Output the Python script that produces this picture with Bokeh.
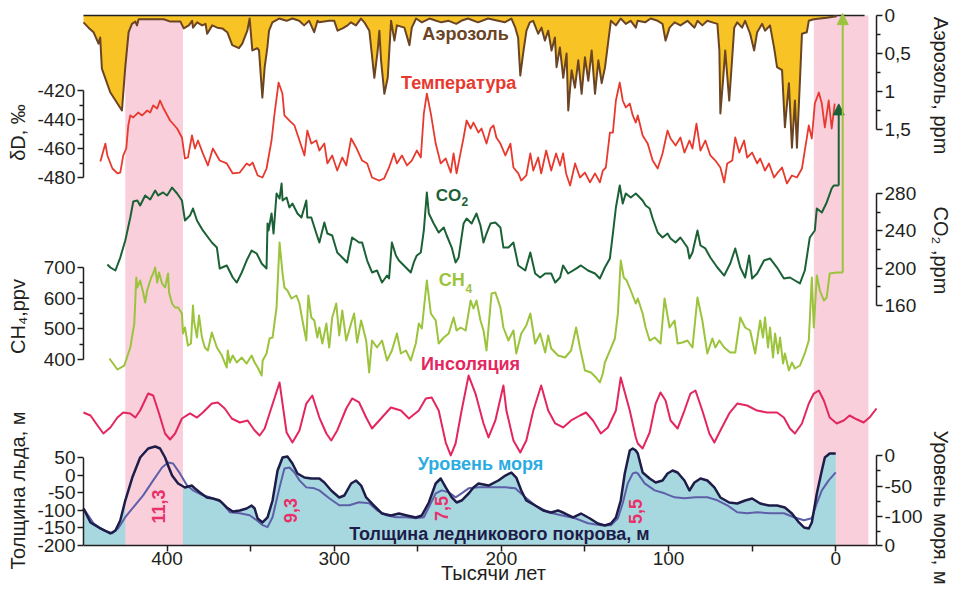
import math
from bokeh.plotting import figure
from bokeh.models import Range1d, LinearAxis, FixedTicker, Label, Arrow, NormalHead
from bokeh.embed import file_html
from bokeh.resources import INLINE

# ---------------------------------------------------------------- data
# (age, thousand years before present ; value)
AEROSOL_PPM = [
    (450, 0.09), (447, 0.16), (444, 0.22), (441, 0.37), (440, 0.29), (439, 0.70), (434, 1.01), (427, 1.25), (425, 0.68), (423, 0.22),
    (421, 0.11), (419, 0.08), (418, 0.13), (417, 0.05), (410, 0.05), (402, 0.05), (398, 0.08), (392, 0.08), (390, 0.17), (387, 0.13),
    (385, 0.07), (384.5, 0.16), (382, 0.09), (379, 0.13), (377, 0.11), (376, 0.24), (373, 0.13), (370, 0.16), (367, 0.17), (364, 0.22),
    (361, 0.39), (357, 0.43), (355, 0.37), (352, 0.20), (350.6, 0.04), (349, 0.46), (346, 0.43), (345, 0.46), (343, 1.08), (341.6, 0.68),
    (340, 0.42), (339, 0.20), (337, 0.09), (333, 0.04), (328.5, 0.07), (325, 0.04), (321, 0.07), (318, 0.13), (315, 0.07), (312, 0.22),
    (310, 0.07), (309, 0.09), (303, 0.07), (300, 0.07), (298, 0.20), (295, 0.17), (292, 0.13), (290, 0.09), (287, 0.13), (284, 0.04),
    (282, 0.09), (279, 0.20), (276, 0.82), (274, 0.46), (273, 0.20), (272, 0.59), (270, 1.03), (268, 0.82), (266, 0.07), (264, 0.33),
    (262.5, 0.13), (258, 0.16), (255, 0.39), (253.6, 0.16), (251, 0.04), (247.6, 0.09), (243, 0.04), (239, 0.07), (236, 0.09), (231.5, 0.07),
    (227, 0.11), (224, 0.07), (220, 0.04), (214, 0.09), (208, 0.04), (202, 0.07), (198, 0.09), (194, 0.04), (191.7, 0.16), (190, 0.29),
    (188.7, 0.79), (187, 0.50), (185, 0.20), (183, 0.09), (181, 0.07), (178, 0.24), (176, 0.16), (174, 0.33), (172, 0.20), (170, 0.46),
    (168, 0.29), (167, 0.68), (165, 0.42), (163, 0.82), (161, 0.50), (160, 1.25), (158, 0.72), (156, 0.95), (154, 0.59), (152, 1.03),
    (150, 0.55), (148, 0.86), (146, 0.46), (144, 1.03), (142, 0.59), (140, 0.89), (138, 0.68), (136, 0.33), (134.5, 0.07), (131.5, 0.13),
    (128.6, 0.04), (125.6, 0.11), (122.6, 0.07), (119.6, 0.16), (118.5, 0.07), (114, 0.09), (110.7, 0.04), (106.5, 0.07), (103.6, 0.11), (101.8, 0.33),
    (99.4, 0.16), (96.4, 0.09), (92.9, 0.13), (88.7, 0.07), (84.5, 0.16), (82.7, 0.07), (79.8, 0.13), (76.8, 0.07), (73.8, 0.09), (70.8, 0.11),
    (69.6, 0.46), (69.0, 1.29), (67.3, 0.82), (66.1, 0.46), (63.7, 1.12), (61.9, 0.55), (60.7, 0.16), (58.9, 0.09), (56.0, 0.16), (54.2, 0.07),
    (51.2, 0.24), (48.8, 0.46), (47.0, 0.22), (44.0, 0.11), (42.3, 0.20), (39.3, 0.13), (36.9, 0.42), (35.1, 0.68), (32.1, 0.72), (30.4, 1.47),
    (28.0, 0.89), (26.2, 1.74), (24.4, 1.12), (23.2, 1.74), (21.4, 0.86), (20.2, 0.24), (17.3, 0.22), (16.1, 0.07), (13.1, 0.05), (9.5, 0.04),
    (5.4, 0.03), (-0.6, 0.01),
]

TEMPERATURE_DD = [
    (439.9, -469.0), (436.9, -456.6), (435.7, -464.8), (432.7, -473.8), (429.7, -477.2), (428.0, -476.6), (426.2, -464.8), (424.4, -460.0),
    (423.2, -444.1), (422.0, -437.2), (420.2, -438.6), (417.3, -435.2), (414.9, -437.2), (411.9, -433.8), (410.1, -435.2), (408.3, -430.3),
    (405.9, -432.4), (404.2, -426.9), (402.4, -431.7), (398.2, -440.7), (394.0, -446.2), (391.1, -452.4), (389.3, -466.9), (387.5, -466.2),
    (385.1, -451.0), (383.3, -460.0), (381.5, -454.5), (378.6, -463.4), (375.6, -471.7), (372.6, -460.0), (368.5, -468.3), (364.3, -470.3),
    (360.7, -477.2), (356.5, -476.6), (352.4, -470.3), (350.6, -471.7), (348.8, -469.7), (345.8, -478.6), (342.9, -480.0), (340.5, -473.8),
    (337.5, -454.5), (335.7, -435.9), (333.3, -414.5), (331.0, -422.1), (329.8, -437.2), (326.8, -440.7), (323.8, -444.1), (320.8, -454.5),
    (317.8, -464.8), (316.1, -447.6), (313.7, -456.6), (310.7, -454.5), (308.9, -461.4), (305.9, -456.6), (304.1, -470.3), (301.2, -464.8),
    (298.2, -475.2), (295.2, -466.2), (292.8, -471.7), (289.9, -453.1), (286.9, -459.3), (283.3, -468.3), (280.3, -470.3), (277.4, -480.0),
    (273.2, -482.1), (270.2, -480.7), (267.2, -473.1), (264.3, -463.4), (262.5, -470.3), (259.5, -464.8), (256.5, -471.7), (253.6, -468.3),
    (250.6, -461.4), (248.2, -466.2), (246.4, -435.9), (244.6, -422.1), (242.2, -435.9), (239.3, -456.6), (236.3, -470.3), (233.3, -466.9),
    (230.3, -476.6), (228.6, -463.4), (226.8, -477.2), (224.4, -462.8), (222.6, -452.4), (220.8, -440.7), (218.4, -446.2), (216.7, -442.1),
    (213.7, -449.0), (211.9, -446.2), (208.9, -456.6), (206.5, -446.2), (204.7, -444.1), (203.0, -452.4), (200.6, -456.6), (197.6, -464.8),
    (194.6, -456.6), (192.8, -473.1), (189.9, -477.2), (188.1, -482.1), (185.1, -478.6), (182.7, -463.4), (180.9, -475.2), (178.0, -466.2),
    (176.2, -477.2), (173.2, -461.4), (170.2, -475.2), (167.3, -463.4), (164.9, -471.7), (163.1, -463.4), (161.3, -477.2), (158.9, -485.5),
    (155.9, -470.3), (153.0, -480.0), (150.0, -476.6), (147.0, -483.4), (144.0, -477.2), (141.1, -483.4), (139.3, -475.2), (137.5, -473.1),
    (135.1, -449.0), (133.3, -449.0), (131.5, -426.9), (129.2, -414.5), (127.4, -426.9), (125.6, -431.7), (123.2, -429.0), (121.4, -437.2),
    (119.6, -442.1), (118.4, -437.2), (115.5, -451.0), (112.5, -456.6), (109.5, -468.3), (106.5, -473.8), (103.6, -463.4), (100.6, -447.6),
    (98.8, -453.1), (95.8, -457.9), (92.9, -452.4), (90.5, -462.8), (87.5, -454.5), (85.7, -460.0), (83.3, -442.8), (80.9, -461.4),
    (78.0, -454.5), (75.0, -464.8), (72.0, -468.3), (69.0, -473.1), (66.7, -483.4), (64.9, -470.3), (61.9, -468.3), (60.1, -452.4),
    (57.7, -462.8), (54.8, -454.5), (53.0, -466.2), (50.0, -462.8), (47.0, -470.3), (45.2, -466.9), (42.3, -475.2), (39.9, -470.3),
    (36.9, -480.0), (35.1, -477.2), (32.1, -473.1), (29.2, -484.1), (26.2, -478.6), (23.2, -480.0), (20.2, -473.8), (18.5, -461.4),
    (16.1, -444.1), (14.3, -453.1), (12.5, -429.0), (10.1, -421.4), (8.3, -429.0), (6.5, -445.5), (4.2, -426.9), (2.4, -446.2), (0.6, -429.0),
]

CO2_PPM = [
    (435.7, 203.9), (433.9, 200.7), (430.9, 197.5), (428.0, 211.4), (425.0, 229.6), (422.0, 254.3), (420.2, 271.4), (417.8, 272.5),
    (416.1, 267.1), (413.1, 277.9), (410.1, 273.6), (407.1, 283.2), (405.3, 277.9), (402.4, 281.1), (400.0, 277.9), (397.0, 286.4),
    (394.0, 280.0), (391.1, 272.5), (389.3, 251.1), (386.3, 256.4), (384.5, 263.9), (382.1, 251.1), (378.6, 240.4), (373.2, 227.5),
    (370.2, 222.1), (368.5, 199.6), (364.3, 202.9), (360.7, 190.0), (358.3, 184.6), (355.3, 195.4), (352.4, 208.2), (349.4, 218.9),
    (346.4, 215.7), (343.4, 205.0), (340.5, 199.6), (339.9, 247.9), (339.3, 240.4), (337.5, 258.6), (336.3, 237.1), (334.5, 280.0),
    (332.7, 274.6), (331.5, 290.7), (330.9, 272.5), (328.5, 275.7), (326.8, 265.0), (325.0, 269.3), (322.0, 258.6), (319.6, 254.3),
    (316.7, 272.5), (316.1, 254.3), (313.7, 254.3), (310.7, 237.1), (308.9, 227.5), (305.9, 248.9), (304.1, 237.1), (301.2, 235.0),
    (298.2, 216.8), (295.2, 211.4), (292.3, 206.1), (289.3, 232.9), (285.1, 227.5), (283.3, 227.5), (280.3, 208.2), (277.4, 195.4),
    (274.4, 197.5), (271.4, 184.6), (268.4, 192.1), (267.2, 188.9), (265.5, 227.5), (263.1, 213.6), (261.3, 208.2), (258.3, 202.9),
    (254.2, 195.4), (252.4, 206.1), (250.6, 213.6), (248.2, 216.8), (246.4, 240.4), (244.6, 281.1), (243.4, 258.6), (240.5, 247.9),
    (237.5, 238.2), (234.5, 243.6), (232.7, 235.0), (229.7, 222.1), (227.4, 206.1), (225.6, 211.4), (222.6, 247.9), (220.8, 253.2),
    (217.8, 247.9), (214.9, 258.6), (212.5, 245.7), (210.7, 227.5), (208.9, 237.1), (206.5, 247.9), (203.6, 248.9), (200.6, 243.6),
    (198.8, 222.1), (195.8, 222.1), (192.8, 227.5), (189.9, 202.9), (185.7, 197.5), (182.7, 216.8), (179.8, 194.3), (176.8, 190.0),
    (173.8, 194.3), (170.2, 194.3), (167.8, 184.6), (164.9, 190.0), (163.1, 202.9), (160.1, 194.3), (155.3, 199.6), (152.4, 202.9),
    (148.2, 197.5), (144.0, 194.3), (141.1, 188.9), (138.1, 200.7), (135.1, 210.4), (133.3, 237.1), (131.5, 265.0), (129.2, 288.6),
    (127.4, 269.3), (125.6, 280.0), (122.6, 275.7), (119.6, 280.0), (118.4, 277.9), (115.5, 272.5), (113.7, 267.1), (111.3, 263.9),
    (109.5, 253.2), (106.5, 238.2), (103.6, 232.9), (100.6, 237.1), (98.8, 231.8), (95.8, 227.5), (92.9, 232.9), (88.7, 222.1),
    (87.5, 210.4), (85.7, 216.8), (82.7, 240.4), (80.9, 224.3), (78.0, 221.1), (75.0, 211.4), (70.8, 200.7), (66.7, 192.1),
    (63.1, 205.0), (60.1, 221.1), (57.1, 200.7), (54.2, 190.0), (51.8, 213.6), (50.0, 188.9), (47.0, 194.3), (42.9, 208.2),
    (39.3, 210.4), (35.1, 200.7), (31.0, 188.9), (27.4, 190.0), (24.4, 186.8), (21.4, 183.6), (18.5, 197.5), (15.5, 232.9),
    (12.5, 240.4), (11.3, 263.9), (8.3, 259.6), (5.4, 270.4), (2.4, 285.4), (1.2, 288.6), (-1.8, 288.6),
]
CO2_NOW = 376.0      # present-day value reached by the arrow

CH4_PPB = [
    (434.5, 403.2), (429.7, 367.4), (425.6, 380.4), (422.0, 439.1), (419.6, 517.4), (418.4, 667.4), (417.8, 634.8), (416.1, 657.6),
    (414.3, 618.5), (413.1, 585.9), (411.9, 625.0), (409.5, 667.4), (408.3, 680.4), (407.1, 700.0), (405.9, 651.1), (404.8, 683.7),
    (403.0, 647.8), (401.2, 634.8), (399.4, 680.4), (398.8, 618.5), (397.0, 582.6), (395.2, 569.6), (393.4, 569.6), (391.1, 550.0),
    (390.5, 484.8), (389.3, 504.3), (387.5, 445.6), (385.7, 452.2), (384.5, 576.1), (383.9, 527.2), (382.1, 471.7), (380.9, 543.5),
    (379.1, 471.7), (377.4, 439.1), (375.6, 429.3), (373.2, 488.0), (370.2, 439.1), (367.2, 413.0), (364.3, 373.9), (363.7, 429.3),
    (362.5, 390.2), (360.7, 413.0), (358.3, 390.2), (355.3, 406.5), (352.4, 386.9), (349.4, 413.0), (347.6, 390.2), (345.8, 373.9),
    (343.4, 347.8), (342.8, 396.7), (340.5, 419.6), (338.7, 468.5), (336.9, 471.7), (334.5, 569.6), (332.7, 781.5), (330.9, 680.4),
    (329.8, 634.8), (328.0, 625.0), (325.6, 598.9), (322.6, 608.7), (320.8, 582.6), (319.0, 527.2), (316.7, 461.9), (315.5, 608.7),
    (313.7, 536.9), (311.9, 527.2), (310.1, 471.7), (308.9, 504.3), (307.1, 452.2), (304.7, 517.4), (303.0, 439.1), (301.2, 536.9),
    (298.8, 582.6), (297.0, 478.3), (295.2, 559.8), (292.8, 461.9), (289.9, 517.4), (288.1, 550.0), (286.3, 455.4), (283.9, 527.2),
    (280.9, 461.9), (279.1, 357.6), (277.4, 461.9), (274.4, 439.1), (271.4, 461.9), (268.4, 396.7), (265.5, 429.3), (262.5, 484.8),
    (260.1, 419.6), (257.1, 429.3), (254.2, 396.7), (251.2, 452.2), (249.4, 517.4), (247.6, 501.1), (244.6, 657.6), (242.2, 550.0),
    (239.3, 527.2), (237.5, 452.2), (234.5, 471.7), (231.5, 484.8), (228.6, 536.9), (226.8, 494.6), (224.4, 504.3), (221.4, 494.6),
    (218.4, 592.4), (216.7, 566.3), (214.9, 592.4), (212.5, 527.2), (210.7, 494.6), (208.9, 429.3), (205.9, 615.2), (203.6, 618.5),
    (200.6, 569.6), (198.8, 504.3), (195.8, 461.9), (192.8, 494.6), (191.1, 419.6), (188.1, 484.8), (185.1, 510.9), (182.7, 550.0),
    (179.8, 452.2), (176.8, 484.8), (173.8, 422.8), (172.0, 478.3), (170.2, 435.9), (166.1, 413.0), (161.9, 406.5), (158.3, 429.3),
    (155.3, 504.3), (153.0, 439.1), (150.0, 364.1), (146.4, 357.6), (143.4, 341.3), (141.1, 325.0), (139.3, 354.3), (138.1, 390.2),
    (135.1, 429.3), (132.1, 468.5), (130.3, 550.0), (128.6, 722.8), (126.8, 667.4), (125.0, 657.6), (122.6, 625.0), (119.6, 582.6),
    (118.4, 598.9), (115.5, 550.0), (113.7, 504.3), (111.3, 461.9), (108.3, 471.7), (104.8, 452.2), (102.4, 598.9), (99.4, 504.3),
    (96.4, 527.2), (94.6, 452.2), (91.7, 455.4), (88.7, 461.9), (85.7, 439.1), (82.7, 602.2), (79.8, 527.2), (76.8, 419.6),
    (73.8, 468.5), (72.0, 439.1), (69.6, 461.9), (66.7, 439.1), (63.1, 422.8), (60.1, 422.8), (57.1, 536.9), (54.2, 504.3),
    (51.2, 494.6), (48.2, 419.6), (45.2, 527.2), (43.5, 471.7), (42.3, 536.9), (40.5, 439.1), (39.3, 504.3), (37.5, 406.5),
    (36.3, 484.8), (34.5, 419.6), (33.3, 471.7), (31.5, 387.0), (30.4, 419.6), (28.0, 364.1), (26.2, 390.2), (24.4, 370.6),
    (21.4, 380.4), (18.5, 419.6), (16.1, 461.9), (14.3, 667.4), (13.1, 504.3), (11.3, 673.9), (9.5, 625.0), (7.1, 592.4),
    (5.4, 602.2), (3.6, 680.4), (-0.6, 683.7), (-4.2, 683.7),
]
CH4_NOW = 1528.0     # present-day value reached by the arrow

INSOLATION_WM2 = [
    (450.0, 504.3), (445.8, 500.0), (441.6, 485.7), (438.1, 474.3), (433.9, 482.9), (429.7, 497.1), (426.2, 504.3), (422.0, 502.9),
    (419.0, 497.1), (416.1, 507.1), (411.3, 531.4), (408.3, 528.6), (404.8, 502.9), (401.2, 474.3), (398.2, 465.7), (395.2, 474.3),
    (391.1, 495.7), (386.3, 502.9), (382.1, 497.1), (378.6, 504.3), (373.2, 517.1), (369.6, 518.6), (365.5, 510.0), (361.3, 495.7),
    (356.5, 490.0), (351.8, 492.9), (347.6, 478.6), (344.6, 471.4), (341.6, 481.4), (338.7, 502.9), (332.7, 547.1), (328.5, 475.7),
    (325.0, 461.4), (320.8, 478.6), (316.7, 517.1), (313.1, 528.6), (308.9, 497.1), (304.7, 474.3), (301.8, 464.3), (298.2, 478.6),
    (292.8, 510.0), (289.3, 524.3), (285.1, 518.6), (280.9, 497.1), (277.4, 481.4), (272.0, 495.7), (266.1, 511.4), (260.1, 507.1),
    (255.3, 495.7), (249.4, 507.1), (245.2, 524.3), (241.7, 525.7), (237.5, 507.1), (233.3, 461.4), (230.3, 442.9), (227.4, 460.0),
    (223.8, 507.1), (219.6, 557.1), (215.5, 531.4), (210.7, 488.6), (207.7, 468.6), (203.6, 492.9), (198.8, 542.9), (197.0, 507.1),
    (192.8, 464.3), (188.7, 447.1), (185.1, 464.3), (180.9, 507.1), (176.2, 542.9), (172.0, 507.1), (167.8, 488.6), (163.1, 482.9),
    (158.3, 492.9), (153.0, 500.0), (149.4, 504.3), (145.2, 492.9), (140.5, 474.3), (136.3, 482.9), (131.5, 507.1), (128.6, 554.3),
    (123.2, 507.1), (119.6, 468.6), (118.4, 460.0), (115.5, 452.9), (111.3, 475.7), (107.7, 517.1), (104.8, 532.9), (101.8, 521.4),
    (98.8, 492.9), (94.6, 481.4), (90.5, 507.1), (86.9, 531.4), (83.9, 535.7), (79.8, 507.1), (75.6, 474.3), (72.6, 461.4),
    (69.0, 478.6), (63.7, 502.9), (58.9, 517.1), (53.0, 514.3), (47.0, 507.1), (41.1, 504.3), (35.1, 504.3), (31.0, 497.1),
    (27.4, 481.4), (24.4, 474.3), (20.2, 488.6), (16.1, 517.1), (13.1, 531.4), (10.1, 535.7), (7.1, 521.4), (3.6, 497.1),
    (-0.6, 488.6), (-4.8, 492.9), (-8.3, 500.0), (-12.5, 494.6), (-16.7, 490.0), (-20.2, 497.1), (-24.4, 510.0),
]

SEA_LEVEL_M = [
    (450.0, -86.9), (445.8, -109.8), (439.9, -119.6), (433.9, -127.8), (430.9, -122.9), (428.0, -106.5), (425.0, -73.8), (420.8, -36.1),
    (416.1, -3.3), (411.3, 11.5), (407.1, 14.8), (404.2, 11.5), (401.2, -3.3), (399.4, -16.4), (397.0, -32.8), (393.4, -45.9),
    (389.3, -52.4), (385.1, -49.2), (383.3, -54.1), (380.3, -60.6), (376.2, -68.8), (372.6, -70.5), (368.5, -73.8), (364.3, -85.2),
    (360.7, -91.8), (356.5, -90.1), (352.4, -86.9), (349.4, -82.0), (347.6, -86.9), (345.8, -103.3), (342.9, -109.8), (339.9, -101.6),
    (336.9, -73.8), (333.9, -24.6), (330.9, -3.3), (328.0, -1.6), (325.0, -13.1), (322.0, -29.5), (317.8, -36.1), (313.7, -37.7),
    (308.9, -37.7), (305.9, -44.3), (301.8, -57.4), (297.0, -68.8), (294.0, -65.6), (289.9, -45.9), (286.9, -41.0), (283.9, -49.2),
    (280.9, -68.8), (276.2, -82.0), (271.4, -95.1), (266.1, -98.3), (261.3, -95.1), (256.5, -98.3), (251.2, -101.6), (247.6, -98.3),
    (243.4, -77.0), (239.3, -45.9), (236.3, -37.7), (233.3, -52.4), (229.7, -68.8), (226.8, -77.0), (223.8, -73.8), (219.6, -62.3),
    (216.7, -52.4), (213.7, -45.9), (207.7, -49.2), (201.8, -41.0), (197.6, -32.8), (194.0, -27.9), (191.1, -36.1), (188.1, -57.4),
    (185.1, -73.8), (179.8, -82.0), (175.0, -90.1), (170.2, -93.4), (166.1, -90.1), (161.9, -95.1), (157.1, -101.6), (152.4, -95.1),
    (147.0, -103.3), (142.3, -111.5), (138.1, -114.7), (134.5, -111.5), (131.5, -101.6), (128.6, -73.8), (126.2, -29.5), (123.2, 8.2),
    (121.4, 11.5), (119.6, 8.2), (118.4, 3.3), (115.5, -27.9), (111.3, -37.7), (107.7, -44.3), (103.6, -41.0), (100.6, -29.5),
    (97.6, -24.6), (94.6, -27.9), (90.5, -41.0), (87.5, -57.4), (84.5, -44.3), (80.9, -37.7), (76.8, -41.0), (72.6, -52.4),
    (69.0, -68.8), (63.7, -77.0), (58.9, -78.7), (54.2, -73.8), (50.0, -70.5), (45.2, -78.7), (39.9, -82.0), (35.1, -82.0),
    (30.4, -85.2), (26.2, -95.1), (22.0, -109.8), (19.0, -118.0), (16.1, -119.6), (14.3, -109.8), (11.3, -62.3), (8.3, -24.6),
    (6.5, -3.3), (3.6, 3.3), (0.0, 3.3),
]

ICE_THICKNESS_M = [
    (450.0, -93.8), (444.0, -136.4), (438.1, -156.3), (432.7, -164.8), (429.2, -150.6), (425.0, -119.3), (420.2, -90.9), (414.3, -56.8),
    (408.3, -14.2), (403.0, 22.7), (399.4, 36.9), (396.4, 34.1), (392.3, 5.7), (388.1, -28.4), (384.5, -42.6), (378.6, -56.8),
    (372.6, -65.3), (367.2, -76.7), (362.5, -105.1), (356.5, -108.0), (350.6, -113.6), (346.4, -127.8), (342.8, -142.0), (339.9, -147.7),
    (336.9, -119.3), (332.7, -34.1), (329.8, 19.9), (326.8, 22.7), (323.8, 8.5), (320.8, -14.2), (316.7, -34.1), (311.9, -36.9),
    (308.9, -42.6), (303.0, -65.3), (297.0, -85.2), (291.0, -85.2), (285.1, -76.7), (279.1, -79.5), (274.4, -99.4), (269.0, -113.6),
    (263.1, -119.3), (257.1, -119.3), (251.2, -122.2), (246.4, -119.3), (243.4, -90.9), (239.3, -51.1), (235.7, -42.6), (231.5, -48.3),
    (227.4, -62.5), (223.8, -51.1), (219.6, -36.9), (213.7, -34.1), (205.9, -34.1), (197.6, -34.1), (191.7, -36.9), (185.7, -62.5),
    (179.8, -85.2), (172.0, -105.1), (164.3, -113.6), (155.9, -122.2), (148.2, -136.4), (140.5, -142.0), (134.5, -142.0), (130.3, -122.2),
    (127.4, -79.5), (124.4, -22.7), (121.4, 5.7), (119.6, 8.5), (118.4, 5.7), (114.3, -22.7), (108.3, -42.6), (102.4, -51.1),
    (96.4, -62.5), (90.5, -65.3), (83.9, -62.5), (76.8, -62.5), (70.8, -71.0), (64.9, -85.2), (58.9, -105.1), (53.0, -108.0),
    (47.0, -105.1), (39.3, -108.0), (31.0, -108.0), (25.0, -119.3), (19.0, -127.8), (14.3, -122.2), (11.3, -79.5), (8.3, -42.6),
    (4.2, -14.2), (0.0, 8.5),
]

INTERGLACIALS = [(425.0, 390.5), (13.1, -19.6)]          # shaded periods, kyr
INTERGLACIAL_TEXT = ["11,3", "9,3", "7,5", "5,5"]

X_TICKS = [400, 300, 200, 100, 0]
X_MINOR = [350, 250, 150, 50]
DD_TICKS, DD_MINOR = [-420, -440, -460, -480], [-430, -450, -470]
CH4_TICKS, CH4_MINOR = [700, 600, 500, 400], [650, 550, 450]
ICE_TICKS = [50, 0, -50, -100, -150, -200]
AER_TICKS, AER_LABELS, AER_MINOR = [0, 0.5, 1, 1.5], ["0", "0,5", "1", "1,5"], [0.25, 0.75, 1.25]
CO2_TICKS, CO2_MINOR = [280, 240, 200, 160], [260, 220, 180]
SEA_TICKS, SEA_MINOR = [0, -50, -100], [-25, -75, -125]

LEFT_TITLES = ["δD, ‰", "CH₄,ppv", "Толщина льда, м"]
RIGHT_TITLES = ["Аэрозоль, ppm", "CO₂ ,ppm", "Уровень моря, м"]
X_TITLE = "Тысячи лет"

# ---------------------------------------------------------------- layout (pixels)
W, H = 954, 589
FRAME_L, FRAME_R, FRAME_TOP, FRAME_BOT = 80, 883, 12, 545
ML, MR, MT, MB = FRAME_L, W - FRAME_R, FRAME_TOP, H - FRAME_BOT
FH = FRAME_BOT - FRAME_TOP
ZERO_PX, PX_PER_KYR = 839.0, 1.68


def px2kyr(px):
    return (ZERO_PX - px) / PX_PER_KYR


def rng(va, ya, vb, yb):
    s = (vb - va) / (yb - ya)
    return Range1d(start=va + (FRAME_BOT - ya) * s, end=va + (FRAME_TOP - ya) * s)


YR = {
    "aer": rng(0, 15, 1.5, 129),
    "dd": rng(-420, 90, -480, 177),
    "co2": rng(280, 193, 160, 305),
    "ch4": rng(700, 267, 400, 359),
    "ins": rng(550, 380, 450, 450),
    "ice": rng(50, 457.4, -200, 545),
    "sea": rng(0, 455, -100, 516),
}


def to_main(name, v):
    r = YR[name]
    return round((v - r.start) / (r.end - r.start) * FH, 3)


def main_y(py):          # pixel row -> main range value
    return round(FRAME_BOT - py, 3)


AX_L, AX_R = px2kyr(83), px2kyr(880)

AXC = "#231f20"
FONT = "Liberation Sans"
BROWN, YELLOW = "#6b4424", "#f7c325"
RED = "#e8392e"
DKGREEN = "#1b6136"
LTGREEN = "#9cc33c"
CRIMSON = "#e4265f"
NAVY, SLATE, TEAL = "#1e1d4a", "#5d5fa8", "#a8d8df"
PINK = "#f8cfdb"
SKY = "#2aace2"
NUMC = "#e8306a"

p = figure(width=W, height=H, x_range=Range1d(px2kyr(FRAME_L), px2kyr(FRAME_R)),
           y_range=Range1d(0, FH), output_backend="svg", toolbar_location=None,
           min_border_left=ML, min_border_right=MR, min_border_top=MT, min_border_bottom=MB)
p.extra_y_ranges = YR
p.outline_line_color = None
p.xgrid.visible = False
p.ygrid.visible = False
p.background_fill_color = "white"
p.border_fill_color = "white"


def unzip(pairs):
    return [a for a, _ in pairs], [b for _, b in pairs]


aer_x, aer_y = unzip(AEROSOL_PPM)
dd_x, dd_y = unzip(TEMPERATURE_DD)
co2_x, co2_y = unzip(CO2_PPM)
ch4_x, ch4_y = unzip(CH4_PPB)
ins_x, ins_y = unzip(INSOLATION_WM2)
sea_x, sea_y = unzip(SEA_LEVEL_M)
ice_x, ice_y = unzip(ICE_THICKNESS_M)

aer_bot = YR["aer"].start
(b1l, b1r), (b2l, b2r) = INTERGLACIALS
p.quad(left=[b2l], right=[b2r], top=[0], bottom=[aer_bot], y_range_name="aer",
       fill_color=PINK, line_color=None)
p.varea(x=sea_x, y1=[YR["sea"].start] * len(sea_x), y2=sea_y, y_range_name="sea",
        fill_color=TEAL)
p.quad(left=[b1l], right=[b1r], top=[0], bottom=[aer_bot], y_range_name="aer",
       fill_color=PINK, line_color=None)

# aerosol
p.varea(x=aer_x, y1=[0] * len(aer_x), y2=aer_y, y_range_name="aer", fill_color=YELLOW)
p.segment(x0=[AX_L], x1=[px2kyr(868)], y0=[0], y1=[0], y_range_name="aer",
          line_color=AXC, line_width=1.5)
p.line(aer_x, aer_y, y_range_name="aer", line_color=BROWN, line_width=2, line_join="round")

p.line(dd_x, dd_y, y_range_name="dd", line_color=RED, line_width=1.8, line_join="round")
p.line(co2_x, co2_y, y_range_name="co2", line_color=DKGREEN, line_width=2, line_join="round")
p.line(ch4_x, ch4_y, y_range_name="ch4", line_color=LTGREEN, line_width=2, line_join="round")
p.line(ins_x, ins_y, y_range_name="ins", line_color=CRIMSON, line_width=2, line_join="round")
p.line(ice_x, ice_y, y_range_name="ice", line_color=SLATE, line_width=2, line_join="round")
p.line(sea_x, sea_y, y_range_name="sea", line_color=NAVY, line_width=2.5, line_join="round")

p.add_layout(Arrow(end=NormalHead(size=11, fill_color=DKGREEN, line_color=DKGREEN),
                   x_start=co2_x[-1], y_start=co2_y[-1], x_end=co2_x[-1], y_end=CO2_NOW,
                   y_range_name="co2", line_color=DKGREEN, line_width=2))
p.add_layout(Arrow(end=NormalHead(size=11, fill_color=LTGREEN, line_color=LTGREEN),
                   x_start=ch4_x[-1], y_start=ch4_y[-1], x_end=ch4_x[-1], y_end=CH4_NOW,
                   y_range_name="ch4", line_color=LTGREEN, line_width=2))

# ---------------------------------------------------------------- axes
xa = p.xaxis[0]
xa.ticker = FixedTicker(ticks=X_TICKS, minor_ticks=X_MINOR)
xa.bounds = (AX_R, AX_L)
xa.axis_line_color = AXC
xa.axis_line_width = 1.5
xa.major_tick_in, xa.major_tick_out = 0, 6
xa.minor_tick_in, xa.minor_tick_out = 0, 6
xa.major_tick_line_color = AXC
xa.minor_tick_line_color = AXC
xa.major_tick_line_width = 1.5
xa.minor_tick_line_width = 1.5
xa.major_label_standoff = 0
xa.major_label_text_font = FONT
xa.major_label_text_font_size = "19px"
xa.major_label_text_color = AXC


def stacked(series):
    major, minor, labels = [], [], {}
    for name, ticks, texts, minors in series:
        for t, s in zip(ticks, texts):
            pos = to_main(name, t)
            major.append(pos)
            labels[pos] = s
        minor += [to_main(name, m) for m in minors]
    return major, minor, labels


def style_y(ax, major, minor, labels):
    ax.ticker = FixedTicker(ticks=major, minor_ticks=minor)
    ax.major_label_overrides = labels
    ax.axis_line_color = None
    ax.major_tick_in, ax.major_tick_out = 3, 3
    ax.minor_tick_in, ax.minor_tick_out = 3, 1
    ax.major_tick_line_color = AXC
    ax.minor_tick_line_color = AXC
    ax.major_tick_line_width = 1.5
    ax.minor_tick_line_width = 1.5
    ax.major_label_standoff = 2
    ax.major_label_text_font = FONT
    ax.major_label_text_font_size = "19px"
    ax.major_label_text_color = AXC


def title_axis(ax, ticks, texts, standoff, size, orientation):
    ax.ticker = FixedTicker(ticks=ticks, minor_ticks=[])
    ax.major_label_overrides = dict(zip(ticks, texts))
    ax.major_label_orientation = orientation
    ax.axis_line_color = None
    ax.major_tick_line_color = None
    ax.minor_tick_line_color = None
    ax.major_tick_in = ax.major_tick_out = 0
    ax.minor_tick_in = ax.minor_tick_out = 0
    ax.major_label_standoff = standoff
    ax.major_label_text_font = FONT
    ax.major_label_text_font_size = size
    ax.major_label_text_color = AXC
    return ax


lmaj, lmin, llab = stacked([
    ("dd", DD_TICKS, [str(t) for t in DD_TICKS], DD_MINOR),
    ("ch4", CH4_TICKS, [str(t) for t in CH4_TICKS], CH4_MINOR),
    ("ice", ICE_TICKS, [str(t) for t in ICE_TICKS], []),
])
style_y(p.yaxis[0], lmaj, lmin, llab)
p.add_layout(title_axis(LinearAxis(), [main_y(132), main_y(316), main_y(490)],
                        LEFT_TITLES, 6, "20px", "vertical"), "left")

rmaj, rmin, rlab = stacked([
    ("aer", AER_TICKS, AER_LABELS, AER_MINOR),
    ("co2", CO2_TICKS, [str(t) for t in CO2_TICKS], CO2_MINOR),
    ("sea", SEA_TICKS, [str(t) for t in SEA_TICKS], SEA_MINOR),
])
sea_floor = to_main("sea", YR["sea"].start)
rmaj.append(sea_floor)
rlab[sea_floor] = "0"
ra = LinearAxis()
style_y(ra, rmaj, rmin, rlab)
p.add_layout(ra, "right")
p.add_layout(title_axis(LinearAxis(), [main_y(85), main_y(250), main_y(507)],
                        RIGHT_TITLES, 4, "20px", "vertical"), "right")

xt = px2kyr(495)
p.add_layout(title_axis(LinearAxis(), [xt], [X_TITLE], -6, "20px", "horizontal"), "below")

# axis spines (drawn only along each scale)
for name, ticks in [("dd", DD_TICKS), ("ch4", CH4_TICKS), ("ice", ICE_TICKS)]:
    p.segment(x0=[AX_L], x1=[AX_L], y0=[ticks[0]], y1=[ticks[-1]], y_range_name=name,
              line_color=AXC, line_width=1.5)
for name, top, bot in [("aer", AER_TICKS[0], AER_TICKS[-1]), ("co2", CO2_TICKS[0], CO2_TICKS[-1]),
                       ("sea", SEA_TICKS[0], YR["sea"].start)]:
    p.segment(x0=[AX_R], x1=[AX_R], y0=[top], y1=[bot], y_range_name=name,
              line_color=AXC, line_width=1.5)

# ---------------------------------------------------------------- texts inside the plot


def label(text, px, py, color, size="18px", bold=True, angle=0.0, align="center"):
    p.add_layout(Label(x=px2kyr(px), y=main_y(py), text=text, text_color=color,
                       text_font=FONT, text_font_size=size,
                       text_font_style="bold" if bold else "normal",
                       angle=angle, text_align=align, text_baseline="middle"))


UP = math.pi / 2
label("Аэрозоль", 467, 33, BROWN)
label("Температура", 460, 82, RED)
label("CO", 437, 195, DKGREEN, "17px", align="left")
label("2", 463, 201, DKGREEN, "12px", align="left")
label("CH", 440, 279, LTGREEN, "18px", align="left")
label("4", 467, 288, LTGREEN, "12px", align="left")
label("Инсоляция", 472, 363, CRIMSON)
label("Уровень моря", 482, 463, SKY)
label("Толщина ледникового покрова, м", 501, 533, NAVY)

for txt, (px, py) in zip(INTERGLACIAL_TEXT, [(158, 506), (291, 510), (443, 508), (638, 511)]):
    label(txt, px, py, NUMC, angle=UP)

open("out.html", "w").write(file_html(p, INLINE))
